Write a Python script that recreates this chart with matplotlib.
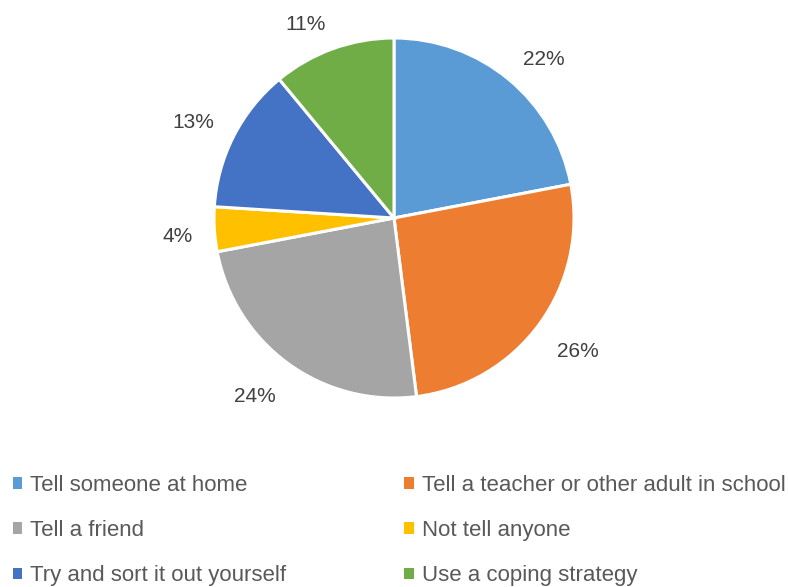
import numpy as np
import matplotlib.pyplot as plt
from matplotlib.patches import Patch
from matplotlib.transforms import offset_copy

# данные
categories = ["Tell someone at home", "Tell a teacher or other adult in school",
              "Tell a friend", "Not tell anyone",
              "Try and sort it out yourself", "Use a coping strategy"]
shares = [22, 26, 24, 4, 13, 11]
colors = ["#5B9BD5", "#ED7D31", "#A5A5A5", "#FFC000", "#4472C4", "#70AD47"]

plt.rcParams['font.family'] = ['Liberation Sans', 'DejaVu Sans']

W, H = 788, 587
fig = plt.figure(figsize=(W / 100, H / 100), dpi=100)
cx, cy, r = 394, 218, 180
ax = fig.add_axes([(cx - r) / W, (H - cy - r) / H, 2 * r / W, 2 * r / H])

wedges, _ = ax.pie(
    shares, colors=colors, startangle=90, counterclock=False,
    wedgeprops=dict(edgecolor="white", linewidth=2.2))
ax.set_xlim(-1, 1)
ax.set_ylim(-1, 1)
ax.set_aspect("equal")

# подписи снаружи, угол подписи прижат к краю круга
total = sum(shares)
tr = offset_copy(ax.transData, fig=fig, y=-6, units="dots")
for w, v in zip(wedges, shares):
    ang = np.deg2rad((w.theta1 + w.theta2) / 2)
    x, y = np.cos(ang), np.sin(ang)
    ha = "left" if x > 0 else "right"
    if abs(y) < 0.3:
        va = "center"
    else:
        va = "bottom" if y > 0 else "top"
    ax.text(1.12 * x, 1.12 * y, f"{100 * v / total:.0f}%", ha=ha, va=va,
            fontsize=15, color="#404040", transform=tr)

# легенда по строкам: два столбца
order = [0, 2, 4, 1, 3, 5]
handles = [Patch(facecolor=colors[i], edgecolor="none") for i in order]
labels = [categories[i] for i in order]
leg = fig.legend(handles, labels, ncol=2, loc="upper left",
                 bbox_to_anchor=(4 / W, 1 - 466 / H), frameon=False,
                 fontsize=16, labelcolor="#595959",
                 handlelength=0.42, handleheight=0.42, handletextpad=0.36,
                 labelspacing=1.09, columnspacing=5.31, borderaxespad=0)

fig.savefig("out.png", dpi=100)
